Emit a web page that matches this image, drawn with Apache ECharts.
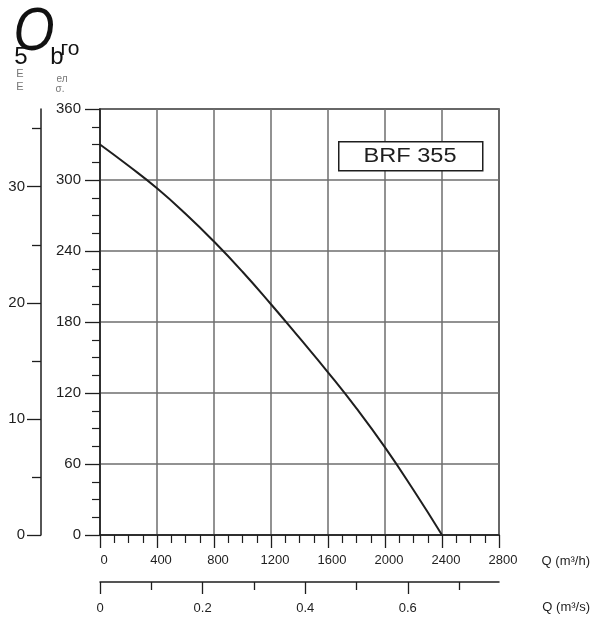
<!DOCTYPE html>
<html>
<head>
<meta charset="utf-8">
<script src="https://cdn.jsdelivr.net/npm/echarts@6/dist/echarts.min.js"></script>
<style>
html,body{margin:0;padding:0;background:#fff;}
#chart{width:607px;height:621px;}
</style>
</head>
<body>
<div id="chart"></div>
<script>
// ---- data ----
const flowM3h = [0, 200, 400, 600, 800, 1000, 1200, 1400, 1600, 1800, 2000, 2200, 2400];
const pressurePa = [330, 312, 293, 271.5, 248, 222.5, 195, 166.5, 137.5, 107, 74, 38, 0];
const modelName = 'BRF 355';
const flowAxisMax = 2800;
const flowAxisStep = 400;
const paAxisMax = 360;
const paAxisStep = 60;
const m3sMajorTicks = [0, 0.2, 0.4, 0.6];
const m3sMinorTicks = [0.1, 0.3, 0.5, 0.7];
const mmMajorTicks = [0, 10, 20, 30];
const mmMinorTicks = [5, 15, 25, 35];
const flowUnitH = 'Q (m³/h)';
const flowUnitS = 'Q (m³/s)';

const ink = '#1e1e1e';
const gridGray = '#6e6e6e';
const fontFam = '"Liberation Sans", Arial, sans-serif';
const plain = v => String(Math.round(v * 1000) / 1000);

const chart = echarts.init(document.getElementById('chart'), null, {renderer: 'canvas'});

const option = {
  backgroundColor: '#ffffff',
  animation: false,
  grid: [
    {left: 100, right: 108, top: 109, bottom: 86, show: true, borderColor: ink, borderWidth: 1.5, containLabel: false},
    {left: 100, right: 108, top: 570, height: 12, show: false, containLabel: false}
  ],
  xAxis: [
    {
      type: 'value', gridIndex: 0, min: 0, max: flowAxisMax, interval: flowAxisStep,
      axisLine: {show: true, onZero: false, lineStyle: {color: ink, width: 1.5}},
      axisTick: {show: true, inside: false, length: 13, lineStyle: {color: ink, width: 1.3}},
      minorTick: {show: true, splitNumber: 4, length: 8, lineStyle: {color: ink, width: 1.2}},
      axisLabel: {show: true, margin: 19, fontSize: 13, color: ink, fontFamily: fontFam, padding: [0, 0, 0, 8], formatter: plain},
      splitLine: {show: true, lineStyle: {color: gridGray, width: 1.5}}
    },
    {
      type: 'value', gridIndex: 1, min: 0, max: flowAxisMax / 3600, position: 'bottom',
      axisLine: {show: true, onZero: false, lineStyle: {color: ink, width: 1.5}},
      axisTick: {show: true, inside: false, length: 12, customValues: m3sMajorTicks, lineStyle: {color: ink, width: 1.3}},
      axisLabel: {show: true, margin: 20, fontSize: 13, color: ink, fontFamily: fontFam, customValues: m3sMajorTicks, formatter: plain},
      splitLine: {show: false}
    },
    {
      type: 'value', gridIndex: 1, min: 0, max: flowAxisMax / 3600, position: 'bottom',
      axisLine: {show: false, onZero: false},
      axisTick: {show: true, inside: false, length: 8, customValues: m3sMinorTicks, lineStyle: {color: ink, width: 1.3}},
      axisLabel: {show: false},
      splitLine: {show: false}
    }
  ],
  yAxis: [
    {
      type: 'value', gridIndex: 0, min: 0, max: paAxisMax, interval: paAxisStep, position: 'left',
      axisLine: {show: true, onZero: false, lineStyle: {color: ink, width: 1.5}},
      axisTick: {show: true, inside: false, length: 15, lineStyle: {color: ink, width: 1.3}},
      minorTick: {show: true, splitNumber: 4, length: 8, lineStyle: {color: ink, width: 1.2}},
      axisLabel: {show: true, margin: 19, fontSize: 15, color: ink, fontFamily: fontFam},
      splitLine: {show: true, lineStyle: {color: gridGray, width: 1.5}}
    },
    {
      type: 'value', gridIndex: 0, min: 0, max: paAxisMax / 9.81, position: 'left', offset: 59,
      axisLine: {show: true, onZero: false, lineStyle: {color: ink, width: 1.5}},
      axisTick: {show: true, inside: false, length: 14, customValues: mmMajorTicks, lineStyle: {color: ink, width: 1.3}},
      axisLabel: {show: true, margin: 16, fontSize: 15, color: ink, fontFamily: fontFam, customValues: mmMajorTicks},
      splitLine: {show: false}
    },
    {
      type: 'value', gridIndex: 0, min: 0, max: paAxisMax / 9.81, position: 'left', offset: 59,
      axisLine: {show: false, onZero: false},
      axisTick: {show: true, inside: false, length: 9, customValues: mmMinorTicks, lineStyle: {color: ink, width: 1.3}},
      axisLabel: {show: false},
      splitLine: {show: false}
    },
    {
      type: 'value', gridIndex: 1, min: 0, max: 1, show: false
    }
  ],
  series: [
    {
      type: 'line', xAxisIndex: 0, yAxisIndex: 0,
      data: flowM3h.map((q, i) => [q, pressurePa[i]]),
      smooth: true, showSymbol: false, symbol: 'none',
      lineStyle: {color: ink, width: 2}
    }
  ],
  graphic: [
    {type: 'rect', left: 338, top: 141, shape: {width: 144, height: 29}, style: {fill: '#fff', stroke: ink, lineWidth: 1.5}, z: 100},
    {type: 'text', x: 410, y: 156, scaleX: 1.18, style: {text: modelName, font: '20px ' + fontFam, fill: ink, align: 'center', verticalAlign: 'middle'}, z: 101},
    {type: 'text', x: 590, y: 561, style: {text: flowUnitH, font: '13px ' + fontFam, fill: ink, align: 'right', verticalAlign: 'middle'}},
    {type: 'text', x: 590, y: 607, style: {text: flowUnitS, font: '13px ' + fontFam, fill: ink, align: 'right', verticalAlign: 'middle'}},
    // top-left glyph fragments
    {type: 'text', x: 34, y: 33, scaleX: 0.85, style: {text: 'O', font: 'italic 62px ' + fontFam, fill: '#111', align: 'center', verticalAlign: 'middle'}},
    {type: 'text', x: 21, y: 57, style: {text: '5', font: '24px ' + fontFam, fill: '#111', align: 'center', verticalAlign: 'middle'}},
    {type: 'text', x: 57, y: 57, style: {text: 'b', font: '24px ' + fontFam, fill: '#111', align: 'center', verticalAlign: 'middle'}},
    {type: 'text', x: 70, y: 49, style: {text: 'го', font: '21px ' + fontFam, fill: '#111', align: 'center', verticalAlign: 'middle'}},
    {type: 'text', x: 20, y: 74, style: {text: 'Е', font: '11px ' + fontFam, fill: '#777', align: 'center', verticalAlign: 'middle'}},
    {type: 'text', x: 20, y: 87, style: {text: 'Е', font: '11px ' + fontFam, fill: '#777', align: 'center', verticalAlign: 'middle'}},
    {type: 'text', x: 62, y: 79, style: {text: 'ел', font: '10px ' + fontFam, fill: '#777', align: 'center', verticalAlign: 'middle'}},
    {type: 'text', x: 60, y: 89, style: {text: 'σ.', font: '10px ' + fontFam, fill: '#777', align: 'center', verticalAlign: 'middle'}}
  ]
};

chart.setOption(option);
</script>
</body>
</html>
